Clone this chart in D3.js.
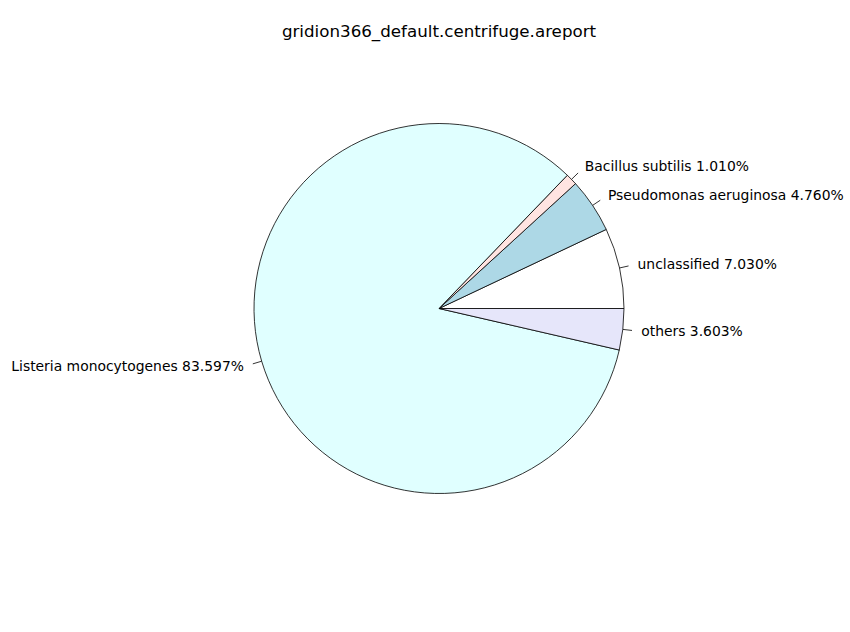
<!DOCTYPE html>
<html>
<head>
<meta charset="utf-8">
<script src="https://cdn.jsdelivr.net/npm/d3@7"></script>
<style>
  html, body { margin: 0; padding: 0; background: #fff; }
  svg { display: block; }
  text { font-family: "DejaVu Sans", sans-serif; }
</style>
</head>
<body>
<svg id="chart" width="850" height="632"></svg>
<script>
const title = "gridion366_default.centrifuge.areport";
const categories = ["unclassified", "Pseudomonas aeruginosa", "Bacillus subtilis", "Listeria monocytogenes", "others"];
const values = [7.030, 4.760, 1.010, 83.597, 3.603];
const colors = ["#ffffff", "#add8e6", "#ffe4e1", "#e0ffff", "#e6e6fa"];

const W = 850, H = 632;
const cx = 439, cy = 308.5, R = 185;

const svg = d3.select("#chart");

svg.append("text")
  .attr("x", cx).attr("y", 31)
  .attr("text-anchor", "middle")
  .attr("dominant-baseline", "central")
  .style("font-size", "16.7px")
  .text(title);

const data = categories.map((c, i) => ({ name: c, value: values[i], color: colors[i] }));

// matplotlib style: start at 3 o'clock, counter-clockwise
const pie = d3.pie().sort(null).value(d => d.value)
  .startAngle(Math.PI / 2).endAngle(Math.PI / 2 - 2 * Math.PI);
const arcs = pie(data);
const arc = d3.arc().innerRadius(0).outerRadius(R);

const g = svg.append("g").attr("transform", `translate(${cx},${cy})`);

g.selectAll("path.slice").data(arcs).enter().append("path")
  .attr("class", "slice")
  .attr("d", arc)
  .attr("fill", d => d.data.color)
  .attr("stroke", "#000")
  .attr("stroke-width", 0.8)
  .attr("stroke-linejoin", "round");

function pt(a, r) { return [Math.sin(a) * r, -Math.cos(a) * r]; }

arcs.forEach(d => {
  const m = (d.startAngle + d.endAngle) / 2;
  const p1 = pt(m, R), p2 = pt(m, R * 1.05), p3 = pt(m, R * 1.1);
  g.append("line")
    .attr("x1", p1[0]).attr("y1", p1[1])
    .attr("x2", p2[0]).attr("y2", p2[1])
    .attr("stroke", "#000").attr("stroke-width", 0.8);
  const pct = d3.format(".3f")(d.data.value) + "%";
  g.append("text")
    .attr("x", p3[0]).attr("y", p3[1])
    .attr("text-anchor", p3[0] >= 0 ? "start" : "end")
    .attr("dominant-baseline", "central")
    .style("font-size", "13.9px")
    .text(d.data.name + "  " + pct);
});
</script>
</body>
</html>
